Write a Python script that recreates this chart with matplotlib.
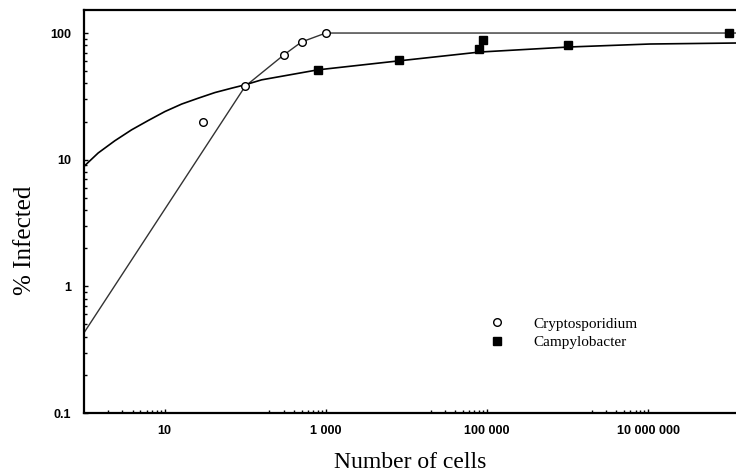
import numpy as np
import matplotlib.pyplot as plt
from matplotlib.ticker import FixedLocator, NullFormatter

# measured doses (cells) and % infected
crypto_dose = [30, 100, 300, 500, 1000]
crypto_pct = [20, 38, 67, 85, 100]
campy_dose = [800, 8000, 80000, 90000, 1e6, 1e8]
campy_pct = [51, 61, 75, 88, 80, 100]

# fitted dose-response curves
crypto_fit_dose = [1, 100, 300, 500, 1000, 1.23e8]
crypto_fit_pct = [0.43, 38, 67, 85, 100, 100]
campy_fit_dose = [1, 1.5, 2.41, 3.89, 6.28, 10.1, 16.3, 26.2, 42.2, 67.9, 99.5, 160,
                  795, 8070, 81800, 1.05e6, 1.05e7, 1.23e8]
campy_fit_pct = [8.86, 11.3, 14.1, 17.2, 20.4, 24.0, 27.5, 30.6, 33.9, 36.7, 39.0, 42.7,
                 51.2, 60.3, 70.8, 77.6, 81.9, 83.4]

x_ticks = [10, 1000, 100000, 10000000]
x_labels = ['10', '1 000', '100 000', '10 000 000']
y_ticks = [0.1, 1, 10, 100]
y_labels = ['0.1', '1', '10', '100']

fig = plt.figure(figsize=(7.36, 4.76), dpi=100)
ax = fig.add_axes([84/736, 1-413/476, 652/736, 403/476])

ax.plot(crypto_fit_dose, crypto_fit_pct, color='#333333', lw=1.0)
ax.plot(campy_fit_dose, campy_fit_pct, color='black', lw=1.2)
ax.plot(crypto_dose, crypto_pct, 'o', ms=5.5, mfc='white', mec='black', mew=1.0,
        label='Cryptosporidium')
ax.plot(campy_dose, campy_pct, 's', ms=5.5, mfc='black', mec='black',
        label='Campylobacter')

ax.set_xscale('log')
ax.set_yscale('log')
ax.set_xlim(1, 1.23e8)
ax.set_ylim(0.1, 152)

ax.spines['right'].set_visible(False)
for s in ['left', 'bottom', 'top']:
    ax.spines[s].set_linewidth(1.6)

ax.xaxis.set_major_locator(FixedLocator(x_ticks))
ax.set_xticklabels(x_labels)
minor_x = [m * 10**d for d in [0, 2, 4, 6] for m in range(2, 10)]
ax.xaxis.set_minor_locator(FixedLocator(minor_x))
ax.xaxis.set_minor_formatter(NullFormatter())
ax.yaxis.set_major_locator(FixedLocator(y_ticks))
ax.set_yticklabels(y_labels)
minor_y = [m * 10**d for d in [-1, 0, 1, 2] for m in range(2, 10) if m * 10**d < 152]
ax.yaxis.set_minor_locator(FixedLocator(minor_y))
ax.yaxis.set_minor_formatter(NullFormatter())

ax.tick_params(which='major', direction='in', length=3, width=1.0, pad=9,
               labelsize=9, top=False)
ax.tick_params(which='minor', direction='in', length=2, width=1.0, top=False)
for lab in ax.get_xticklabels() + ax.get_yticklabels():
    lab.set_fontfamily('Liberation Sans')
    lab.set_fontweight('bold')

fig.text(410/736, 1-463/476, 'Number of cells', family='Liberation Serif',
         fontsize=17, ha='center', va='center')
fig.text(25/736, 1-240/476, '% Infected', family='Liberation Serif',
         fontsize=18, ha='center', va='center', rotation=90)

ax.legend(loc='upper left', bbox_to_anchor=(0.622, 0.238), frameon=False,
          prop={'family': 'Liberation Serif', 'size': 11}, handlelength=1.0,
          handletextpad=1.9, labelspacing=0.3, borderpad=0, borderaxespad=0)

fig.savefig('out.png', dpi=100)
